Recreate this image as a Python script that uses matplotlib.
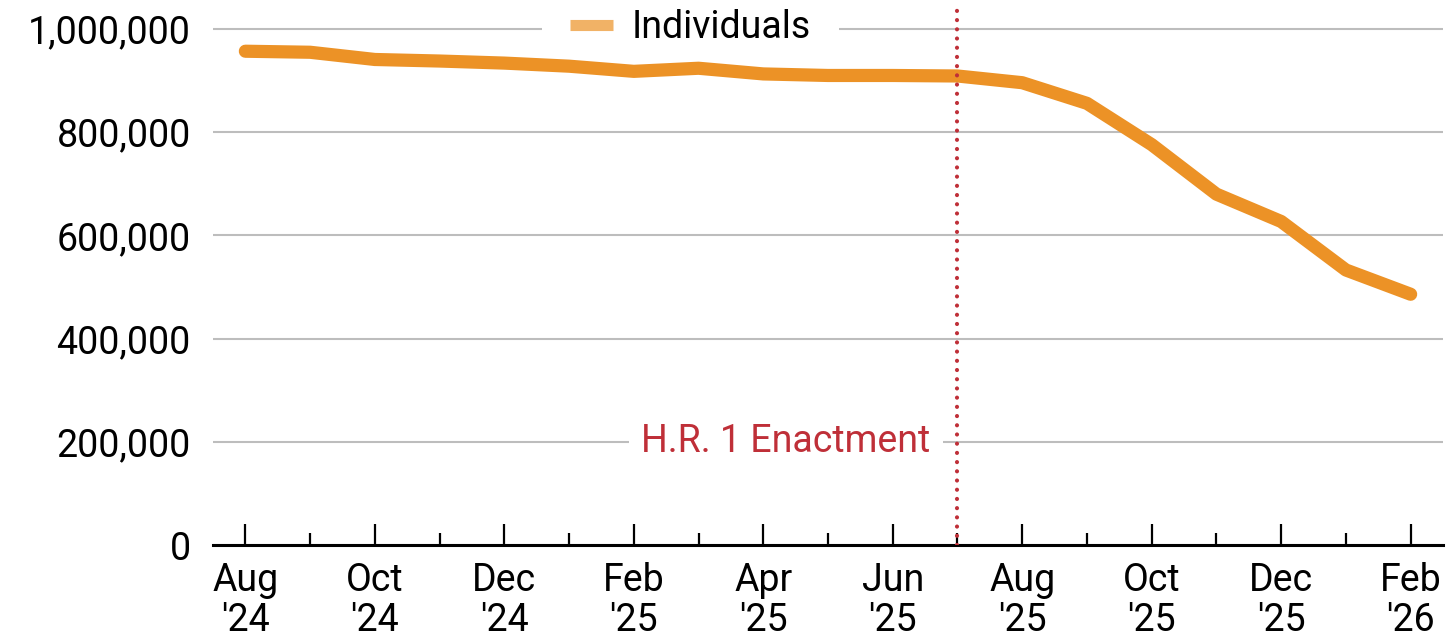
import matplotlib
matplotlib.use("Agg")
import matplotlib.pyplot as plt
from matplotlib.lines import Line2D
from matplotlib.ticker import FuncFormatter, FixedLocator

# --- DATA ---
months = ["Aug '24", "Sep '24", "Oct '24", "Nov '24", "Dec '24", "Jan '25",
          "Feb '25", "Mar '25", "Apr '25", "May '25", "Jun '25", "Jul '25",
          "Aug '25", "Sep '25", "Oct '25", "Nov '25", "Dec '25", "Jan '26",
          "Feb '26"]
individuals = [957000, 955000, 941000, 938000, 934000, 928000,
               918000, 924000, 913000, 910000, 910000, 909000,
               896000, 856000, 776000, 680000, 627000, 533000,
               486000]
tick_labels = ["Aug\n'24", "Oct\n'24", "Dec\n'24", "Feb\n'25", "Apr\n'25",
               "Jun\n'25", "Aug\n'25", "Oct\n'25", "Dec\n'25", "Feb\n'26"]
enactment_month = "Jul '25"
y_ticks = [0, 200000, 400000, 600000, 800000, 1000000]

# --- STYLE ---
# no condensed face here, Roboto is the narrowest close match
plt.rcParams['font.family'] = ['Roboto', 'DejaVu Sans']
LINE_COLOR = "#EC9226"
LEGEND_COLOR = "#F1B266"
RED = "#BF2F38"
FS = 27

fig = plt.figure(figsize=(14.5, 6.43), dpi=100)
ax = fig.add_axes([213 / 1450, 98 / 643, 1230 / 1450, 536.6 / 643])

x = list(range(len(months)))
ax.plot(x, individuals, color=LINE_COLOR, lw=9.5, solid_capstyle="round",
        solid_joinstyle="round", zorder=3)

# enactment marker
xe = months.index(enactment_month)
ax.axvline(xe, color=RED, lw=3.0, linestyle=(0, (0.01, 2.2)),
           dash_capstyle="round", zorder=4)
ax.text(xe - 0.42, 200000, "H.R. 1 Enactment", color=RED, fontsize=FS,
        ha="right", va="center", zorder=2,
        bbox=dict(facecolor="white", edgecolor="none", pad=9))

# axes
ax.set_xlim(-0.5, len(months) - 0.5)
ax.set_ylim(0, 1040000)
ax.set_yticks(y_ticks)
ax.yaxis.set_major_formatter(FuncFormatter(lambda v, p: f"{int(v):,}"))
ax.grid(axis="y", color="#BDBDBD", lw=1.5, zorder=0)
ax.set_axisbelow(True)

ax.xaxis.set_major_locator(FixedLocator(x[::2]))
ax.xaxis.set_minor_locator(FixedLocator(x[1::2]))
ax.set_xticklabels(tick_labels, linespacing=1.1)
ax.tick_params(axis="x", which="major", direction="in", length=15, width=1.6,
               pad=12, labelsize=FS, color="black")
ax.tick_params(axis="x", which="minor", direction="in", length=9, width=1.6,
               color="black")
ax.tick_params(axis="y", length=0, pad=16, labelsize=FS)

for s in ["left", "right", "top"]:
    ax.spines[s].set_visible(False)
ax.spines["bottom"].set_linewidth(2.2)
ax.spines["bottom"].set_color("black")

handle = Line2D([0], [0], color=LEGEND_COLOR, lw=8, solid_capstyle="butt")
leg = ax.legend([handle], ["Individuals"], loc="center left",
                bbox_to_anchor=(0.2675, 0.965), fontsize=FS, frameon=True,
                handlelength=1.15, handletextpad=0.5, borderpad=0.75,
                borderaxespad=0)
leg.get_frame().set_facecolor("white")
leg.get_frame().set_edgecolor("none")
leg.get_frame().set_alpha(1)
leg.set_zorder(2.5)

fig.savefig("out.png", dpi=100, facecolor="white")
